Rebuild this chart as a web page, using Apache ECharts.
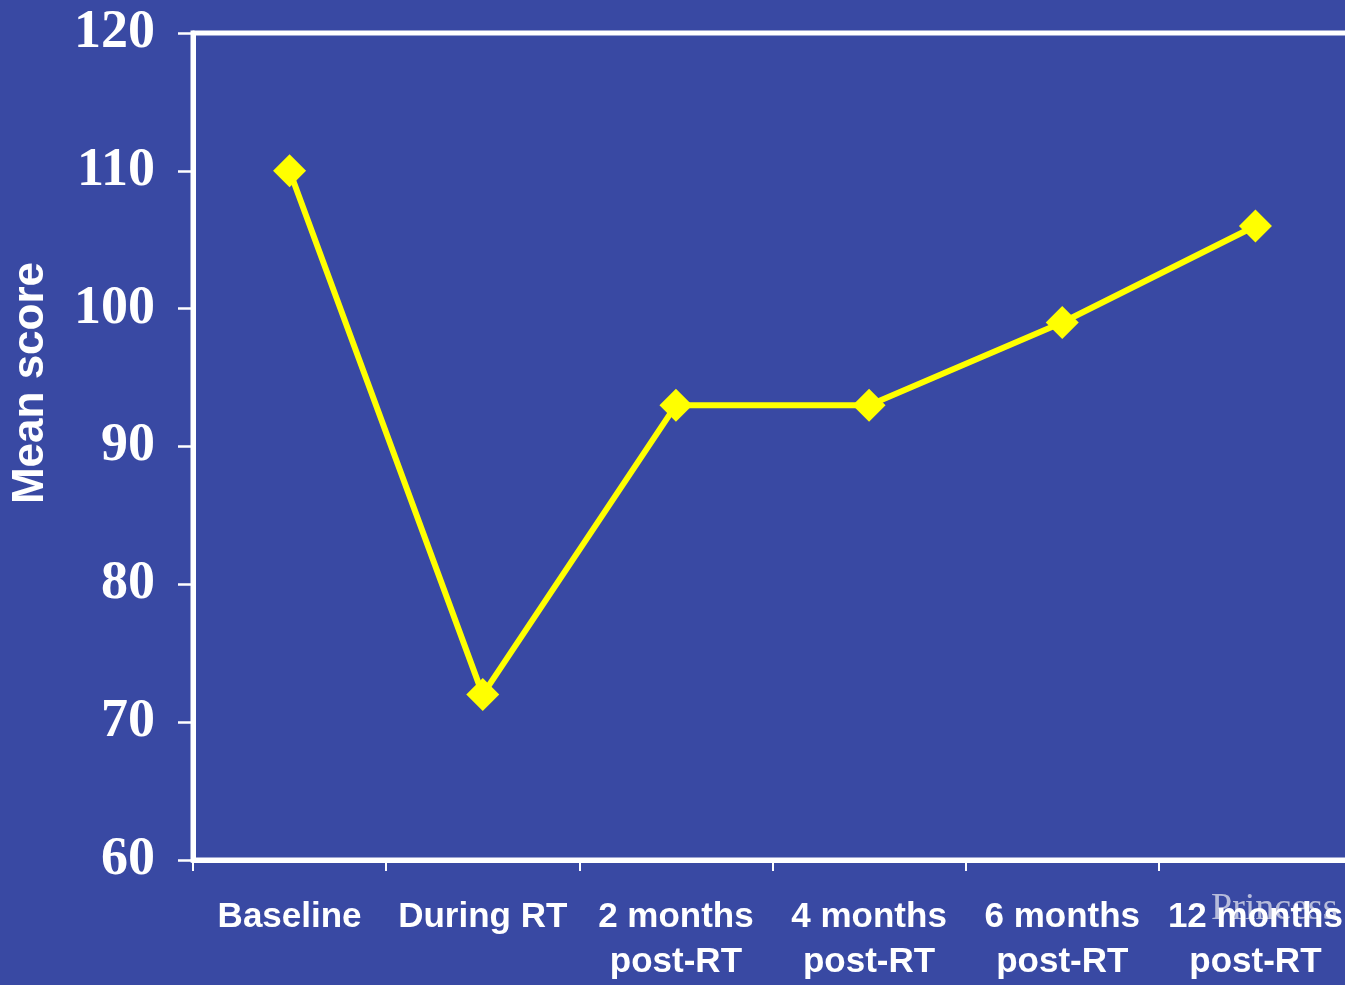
<!DOCTYPE html>
<html>
<head>
<meta charset="utf-8">
<script src="https://cdn.jsdelivr.net/npm/echarts@6/dist/echarts.min.js"></script>
<style>
html,body{margin:0;padding:0;background:#3949A3;overflow:hidden;}
#c{width:1365px;height:985px;}
</style>
</head>
<body>
<div id="c"></div>
<script>
var categories = ['Baseline', 'During RT', '2 months\npost-RT', '4 months\npost-RT', '6 months\npost-RT', '12 months\npost-RT'];
var meanScores = [110, 72, 93, 93, 99, 106];
var yTicks = {min: 60, max: 120, interval: 10};

var chart = echarts.init(document.getElementById('c'));
chart.setOption({
  backgroundColor: '#3949A3',
  animation: false,
  grid: {
    left: 193, top: 33, bottom: 125, width: 1159,
    show: true, borderColor: '#ffffff', borderWidth: 5, backgroundColor: 'transparent'
  },
  xAxis: {
    type: 'category',
    data: categories,
    boundaryGap: true,
    axisLine: {lineStyle: {color: '#ffffff', width: 5}},
    axisTick: {show: true, length: 11, lineStyle: {color: '#ffffff', width: 2}},
    axisLabel: {
      color: '#ffffff', fontFamily: 'Liberation Sans', fontWeight: 'bold',
      fontSize: 35, lineHeight: 45, margin: 35, interval: 0
    },
    splitLine: {show: false}
  },
  yAxis: {
    type: 'value',
    min: yTicks.min, max: yTicks.max, interval: yTicks.interval,
    axisLine: {show: true, lineStyle: {color: '#ffffff', width: 5}},
    axisTick: {show: true, length: 15, lineStyle: {color: '#ffffff', width: 2.5}},
    axisLabel: {
      color: '#ffffff', fontFamily: 'Liberation Serif', fontWeight: 'bold',
      fontSize: 54, margin: 38, padding: [7, 0, 0, 0]
    },
    splitLine: {show: false}
  },
  series: [{
    type: 'line',
    data: meanScores,
    symbol: 'diamond',
    symbolSize: 33,
    lineStyle: {color: '#FFFF00', width: 6},
    itemStyle: {color: '#FFFF00'},
    z: 5
  }],
  graphic: [
    {
      type: 'text', x: 31, y: 383, rotation: Math.PI / 2,
      style: {
        text: 'Mean score', fill: '#ffffff',
        font: 'bold 44px "Liberation Sans"',
        textAlign: 'center', textVerticalAlign: 'middle'
      }
    },
    {
      type: 'text', x: 1211, y: 928,
      style: {
        text: 'Princess', fill: 'rgba(215,218,232,0.8)',
        font: '38px "Liberation Serif"',
        textAlign: 'left', textVerticalAlign: 'bottom'
      }
    }
  ]
});
</script>
</body>
</html>
